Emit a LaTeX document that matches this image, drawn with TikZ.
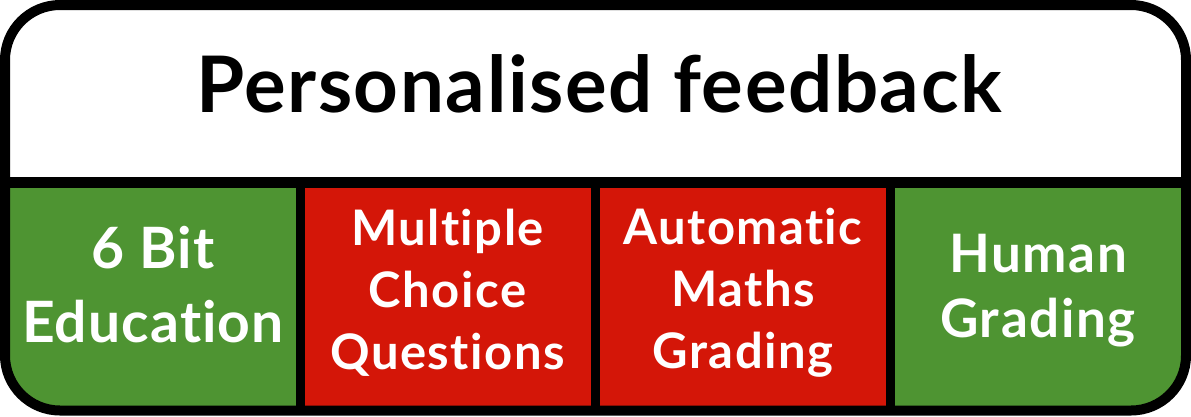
\documentclass[tikz,border=0pt]{standalone}
\usepackage{fontspec}
\setmainfont{Lato}[Ligatures=NoCommon]
\definecolor{okgreen}{HTML}{4E9432}
\definecolor{badred}{HTML}{D41608}
\tikzset{
  celltext/.style={text=white, align=center, font=\bfseries\addfontfeatures{LetterSpace=3}\fontsize{49}{62}\selectfont},
  sep/.style={line width=9pt, black}
}
\begin{document}
\begin{tikzpicture}[x=1pt, y=-1pt]
  \useasboundingbox (0,0) rectangle (1191,416);

  % cell fills, clipped to the outer frame
  \begin{scope}
    \clip[rounded corners=55pt] (5,5) rectangle (1186,410.5);
    \fill[white] (0,0) rectangle (1191,182.5);
    \fill[okgreen] (0,182.5) rectangle (300,416);
    \fill[badred] (300,182.5) rectangle (595.5,416);
    \fill[badred] (595.5,182.5) rectangle (890.5,416);
    \fill[okgreen] (890.5,182.5) rectangle (1191,416);
  \end{scope}

  \coordinate (midL) at (5,182.5);
  \coordinate (midR) at (1186,182.5);
  \coordinate (s1top) at (300,182.5);   \coordinate (s1bot) at (300,410.5);
  \coordinate (s2top) at (595.5,182.5); \coordinate (s2bot) at (595.5,410.5);
  \coordinate (s3top) at (890.5,182.5); \coordinate (s3bot) at (890.5,410.5);

  \draw[sep] (s1top) -- (s1bot);
  \draw[sep] (s2top) -- (s2bot);
  \draw[sep] (s3top) -- (s3bot);
  \draw[sep, line width=11pt] (midL) -- (midR);
  \draw[line width=10pt, rounded corners=55pt] (5,5) rectangle (1186,410.5);

  \node[font=\bfseries\addfontfeatures{LetterSpace=2}\fontsize{78}{90}\selectfont, anchor=base] (title) at (599,112)
  {Personalised feedback};

  \node[celltext, font=\bfseries\addfontfeatures{LetterSpace=2}\fontsize{57}{74}\selectfont] (sixbit) at (153,285)
  {6 Bit\\Education};
  \node[celltext] (mcq) at (447.5,293)
  {Multiple\\Choice\\Questions};
  \node[celltext] (autom) at (743,293)
  {Automatic\\Maths\\Grading};
  \node[celltext, font=\bfseries\addfontfeatures{LetterSpace=3}\fontsize{53}{65}\selectfont] (human) at (1038,291)
  {Human\\Grading};
\end{tikzpicture}
\end{document}
